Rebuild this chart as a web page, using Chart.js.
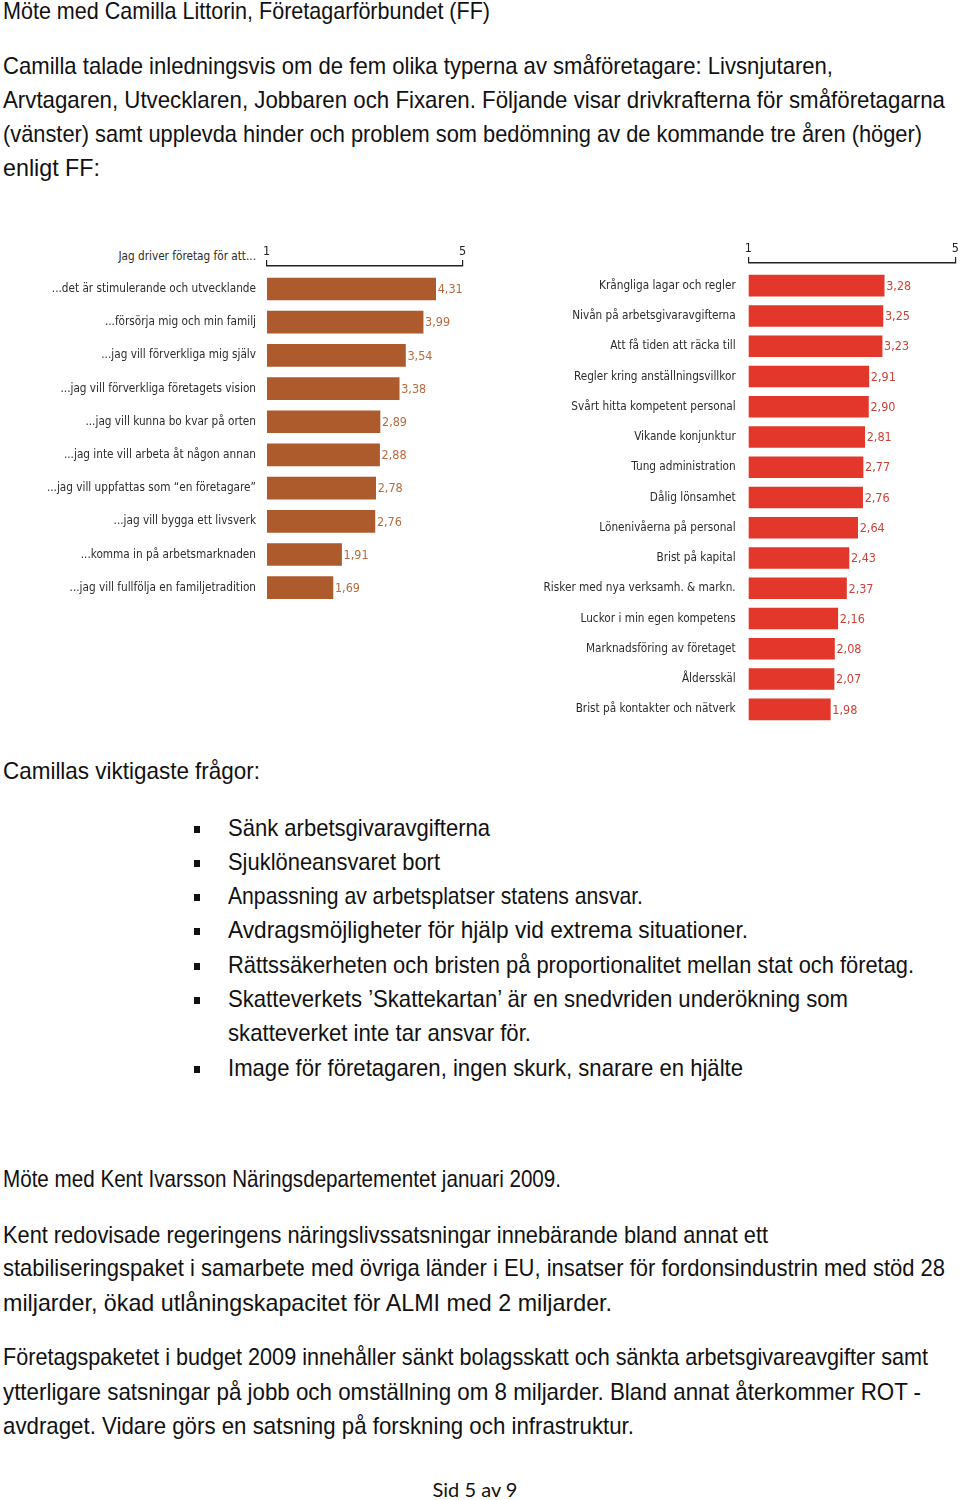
<!DOCTYPE html>
<html lang="sv">
<head>
<meta charset="utf-8">
<script src="https://cdn.jsdelivr.net/npm/chart.js@4.4.1/dist/chart.umd.min.js"></script>
<style>
  html, body { margin: 0; padding: 0; background: #fff; }
  body { width: 960px; height: 1500px; position: relative; overflow: hidden;
         font-family: "Liberation Sans", Arial, sans-serif; color: #111; }
  .ln { position: absolute; white-space: nowrap; font-size: 24px; line-height: 34px; transform-origin: 0 50%; }
  .bul { position: absolute; left: 194px; width: 6px; height: 7px; background: #111; }
  .cv { position: absolute; }
  .ttl { position: absolute; white-space: nowrap; font-family: "Liberation Sans Narrow", "DejaVu Sans Condensed", "Liberation Sans", sans-serif;
         font-size: 11.7px; color: #2b2b2b; }
  .foot { position: absolute; left: 0; width: 950px; text-align: center; font-family: Lato, "Open Sans", sans-serif; font-size: 20px; }
</style>
</head>
<body>

<div class="ln" style="left:3px;top:-6px" data-w="487">Möte med Camilla Littorin, Företagarförbundet (FF)</div>
<div class="ln" style="left:3px;top:49px" data-w="830">Camilla talade inledningsvis om de fem olika typerna av småföretagare: Livsnjutaren,</div>
<div class="ln" style="left:3px;top:83px" data-w="942">Arvtagaren, Utvecklaren, Jobbaren och Fixaren. Följande visar drivkrafterna för småföretagarna</div>
<div class="ln" style="left:3px;top:117px" data-w="919">(vänster) samt upplevda hinder och problem som bedömning av de kommande tre åren (höger)</div>
<div class="ln" style="left:3px;top:151px" data-w="97">enligt FF:</div>

<div class="ttl" id="leftTitle" style="right:704px;top:249px">Jag driver företag för att...</div>
<canvas class="cv" id="driveChart" width="435" height="365" style="left:40px;top:240px"></canvas>
<canvas class="cv" id="hinderChart" width="430" height="490" style="left:530px;top:237px"></canvas>

<div class="ln" style="left:3px;top:754px" data-w="257">Camillas viktigaste frågor:</div>

<div class="bul" style="top:826px"></div>
<div class="ln" style="left:228px;top:811px" data-w="262">Sänk arbetsgivaravgifterna</div>
<div class="bul" style="top:860px"></div>
<div class="ln" style="left:228px;top:845px" data-w="212">Sjuklöneansvaret bort</div>
<div class="bul" style="top:894px"></div>
<div class="ln" style="left:228px;top:879px" data-w="415">Anpassning av arbetsplatser statens ansvar.</div>
<div class="bul" style="top:928px"></div>
<div class="ln" style="left:228px;top:913px" data-w="520">Avdragsmöjligheter för hjälp vid extrema situationer.</div>
<div class="bul" style="top:963px"></div>
<div class="ln" style="left:228px;top:948px" data-w="686">Rättssäkerheten och bristen på proportionalitet mellan stat och företag.</div>
<div class="bul" style="top:997px"></div>
<div class="ln" style="left:228px;top:982px" data-w="620">Skatteverkets ’Skattekartan’ är en snedvriden underökning som</div>
<div class="ln" style="left:228px;top:1016px" data-w="303">skatteverket inte tar ansvar för.</div>
<div class="bul" style="top:1066px"></div>
<div class="ln" style="left:228px;top:1051px" data-w="515">Image för företagaren, ingen skurk, snarare en hjälte</div>

<div class="ln" style="left:3px;top:1162px" data-w="558">Möte med Kent Ivarsson Näringsdepartementet januari 2009.</div>
<div class="ln" style="left:3px;top:1218px" data-w="765">Kent redovisade regeringens näringslivssatsningar innebärande bland annat ett</div>
<div class="ln" style="left:3px;top:1251px" data-w="942">stabiliseringspaket i samarbete med övriga länder i EU, insatser för fordonsindustrin med stöd 28</div>
<div class="ln" style="left:3px;top:1286px" data-w="609">miljarder, ökad utlåningskapacitet för ALMI med 2 miljarder.</div>
<div class="ln" style="left:3px;top:1340px" data-w="925">Företagspaketet i budget 2009 innehåller sänkt bolagsskatt och sänkta arbetsgivareavgifter samt</div>
<div class="ln" style="left:3px;top:1375px" data-w="918">ytterligare satsningar på jobb och omställning om 8 miljarder. Bland annat återkommer ROT -</div>
<div class="ln" style="left:3px;top:1409px" data-w="631">avdraget. Vidare görs en satsning på forskning och infrastruktur.</div>

<div class="foot" style="top:1477px">Sid 5 av 9</div>

<script>
// ── Data ────────────────────────────────────────────────────────────────
const driveLabels = [
    '...det är stimulerande och utvecklande',
    '...försörja mig och min familj',
    '...jag vill förverkliga mig själv',
    '...jag vill förverkliga företagets vision',
    '...jag vill kunna bo kvar på orten',
    '...jag inte vill arbeta åt någon annan',
    '...jag vill uppfattas som “en företagare”',
    '...jag vill bygga ett livsverk',
    '...komma in på arbetsmarknaden',
    '...jag vill fullfölja en familjetradition'
];
const driveValues = [4.31, 3.99, 3.54, 3.38, 2.89, 2.88, 2.78, 2.76, 1.91, 1.69];

const hinderLabels = [
    'Krångliga lagar och regler',
    'Nivån på arbetsgivaravgifterna',
    'Att få tiden att räcka till',
    'Regler kring anställningsvillkor',
    'Svårt hitta kompetent personal',
    'Vikande konjunktur',
    'Tung administration',
    'Dålig lönsamhet',
    'Lönenivåerna på personal',
    'Brist på kapital',
    'Risker med nya verksamh. & markn.',
    'Luckor i min egen kompetens',
    'Marknadsföring av företaget',
    'Åldersskäl',
    'Brist på kontakter och nätverk'
];
const hinderValues = [3.28, 3.25, 3.23, 2.91, 2.90, 2.81, 2.77, 2.76, 2.64, 2.43, 2.37, 2.16, 2.08, 2.07, 1.98];

const axisTicks = ['1', '5'];

// ── Text lines: squeeze each line to its measured width ────────────────
document.querySelectorAll('.ln').forEach(el => {
    const nat = el.getBoundingClientRect().width;
    el.style.transform = `scaleX(${(+el.dataset.w / nat).toFixed(4)})`;
});

const labelFont = '"Liberation Sans Narrow", "DejaVu Sans Condensed", "Liberation Sans", sans-serif';
const AXIS_H = 26;   // height of the top axis band inside each canvas

// ── Value labels next to each bar ──────────────────────────────────────
const valueLabels = {
    id: 'valueLabels',
    afterDatasetsDraw(chart, args, opts) {
        const ctx = chart.ctx;
        const meta = chart.getDatasetMeta(0);
        const data = chart.data.datasets[0].data;
        ctx.save();
        ctx.font = `12.5px ${labelFont}`;
        ctx.fillStyle = opts.color;
        ctx.textAlign = 'left';
        ctx.textBaseline = 'middle';
        meta.data.forEach((bar, i) => {
            ctx.fillText(data[i].x.toFixed(2).replace('.', ','), bar.x + 2, bar.y + 1);
        });
        ctx.restore();
    }
};

function makeChart(id, labels, values, cfg) {
    const canvas = document.getElementById(id);
    const n = labels.length;

    const chart = new Chart(canvas, {
        type: 'bar',
        data: {
            datasets: [{
                data: values.map((v, i) => ({ x: v, y: i })),
                backgroundColor: cfg.barColor,
                borderWidth: 0,
                barThickness: cfg.barThickness
            }]
        },
        options: {
            indexAxis: 'y',
            responsive: false,
            animation: false,
            layout: { padding: { left: 0, right: cfg.padRight, top: 0, bottom: 0 } },
            plugins: {
                legend: { display: false },
                tooltip: { enabled: false },
                valueLabels: { color: cfg.valueColor }
            },
            scales: {
                x: {
                    type: 'linear',
                    position: 'top',
                    min: 0,
                    max: 5,
                    afterFit: s => { s.height = AXIS_H; },
                    ticks: {
                        stepSize: 5,
                        autoSkip: false,
                        maxRotation: 0,
                        padding: 1,
                        color: '#222',
                        font: { family: labelFont, size: 12.5 },
                        callback: (v, i) => axisTicks[i]
                    },
                    grid: { drawOnChartArea: false, drawTicks: true, tickLength: 6, color: '#222', lineWidth: 1.2 },
                    border: { display: true, color: '#222', width: 1.5 }
                },
                y: {
                    type: 'linear',
                    reverse: true,
                    offset: false,
                    min: -0.7,
                    max: n - 0.5,
                    afterBuildTicks: s => { s.ticks = labels.map((l, i) => ({ value: i })); },
                    afterFit: s => { s.width = cfg.yWidth; s.paddingTop = 0; s.paddingBottom = 0; },
                    ticks: {
                        autoSkip: false,
                        padding: cfg.tickPad,
                        color: '#2b2b2b',
                        font: { family: labelFont, size: 11.7 },
                        callback: v => labels[v] ?? ''
                    },
                    grid: { display: false, drawTicks: false },
                    border: { display: false }
                }
            }
        },
        plugins: [valueLabels]
    });

    // place first and last rows where the picture has them, using the scale's own mapping
    for (let k = 0; k < 3; k++) {
        const ys = chart.scales.y;
        const R = ys.max - ys.min;
        const p0 = ys.getPixelForValue(0);
        const p1 = ys.getPixelForValue(n - 1);
        const len = (p1 - p0) * R / (n - 1);          // pixel length of the scale
        const start = p0 + ys.min * len / R;           // pixel of ys.min
        const R2 = len * (n - 1) / (cfg.lastY - cfg.firstY);
        const min2 = -(cfg.firstY - start) * R2 / len;
        chart.options.scales.y.min = min2;
        chart.options.scales.y.max = min2 + R2;
        chart.update('none');
    }
    return chart;
}

makeChart('driveChart', driveLabels, driveValues, {
    barColor: '#ad5a2c', valueColor: '#b96a3e', barThickness: 22,
    padRight: 12.3, yWidth: 226.7, tickPad: 10.7, firstY: 49, lastY: 347.7
});

makeChart('hinderChart', hinderLabels, hinderValues, {
    barColor: '#e2372a', valueColor: '#cf4238', barThickness: 21,
    padRight: 3.3, yWidth: 218.3, tickPad: 12.6, firstY: 48.7, lastY: 472.3
});
</script>
</body>
</html>
